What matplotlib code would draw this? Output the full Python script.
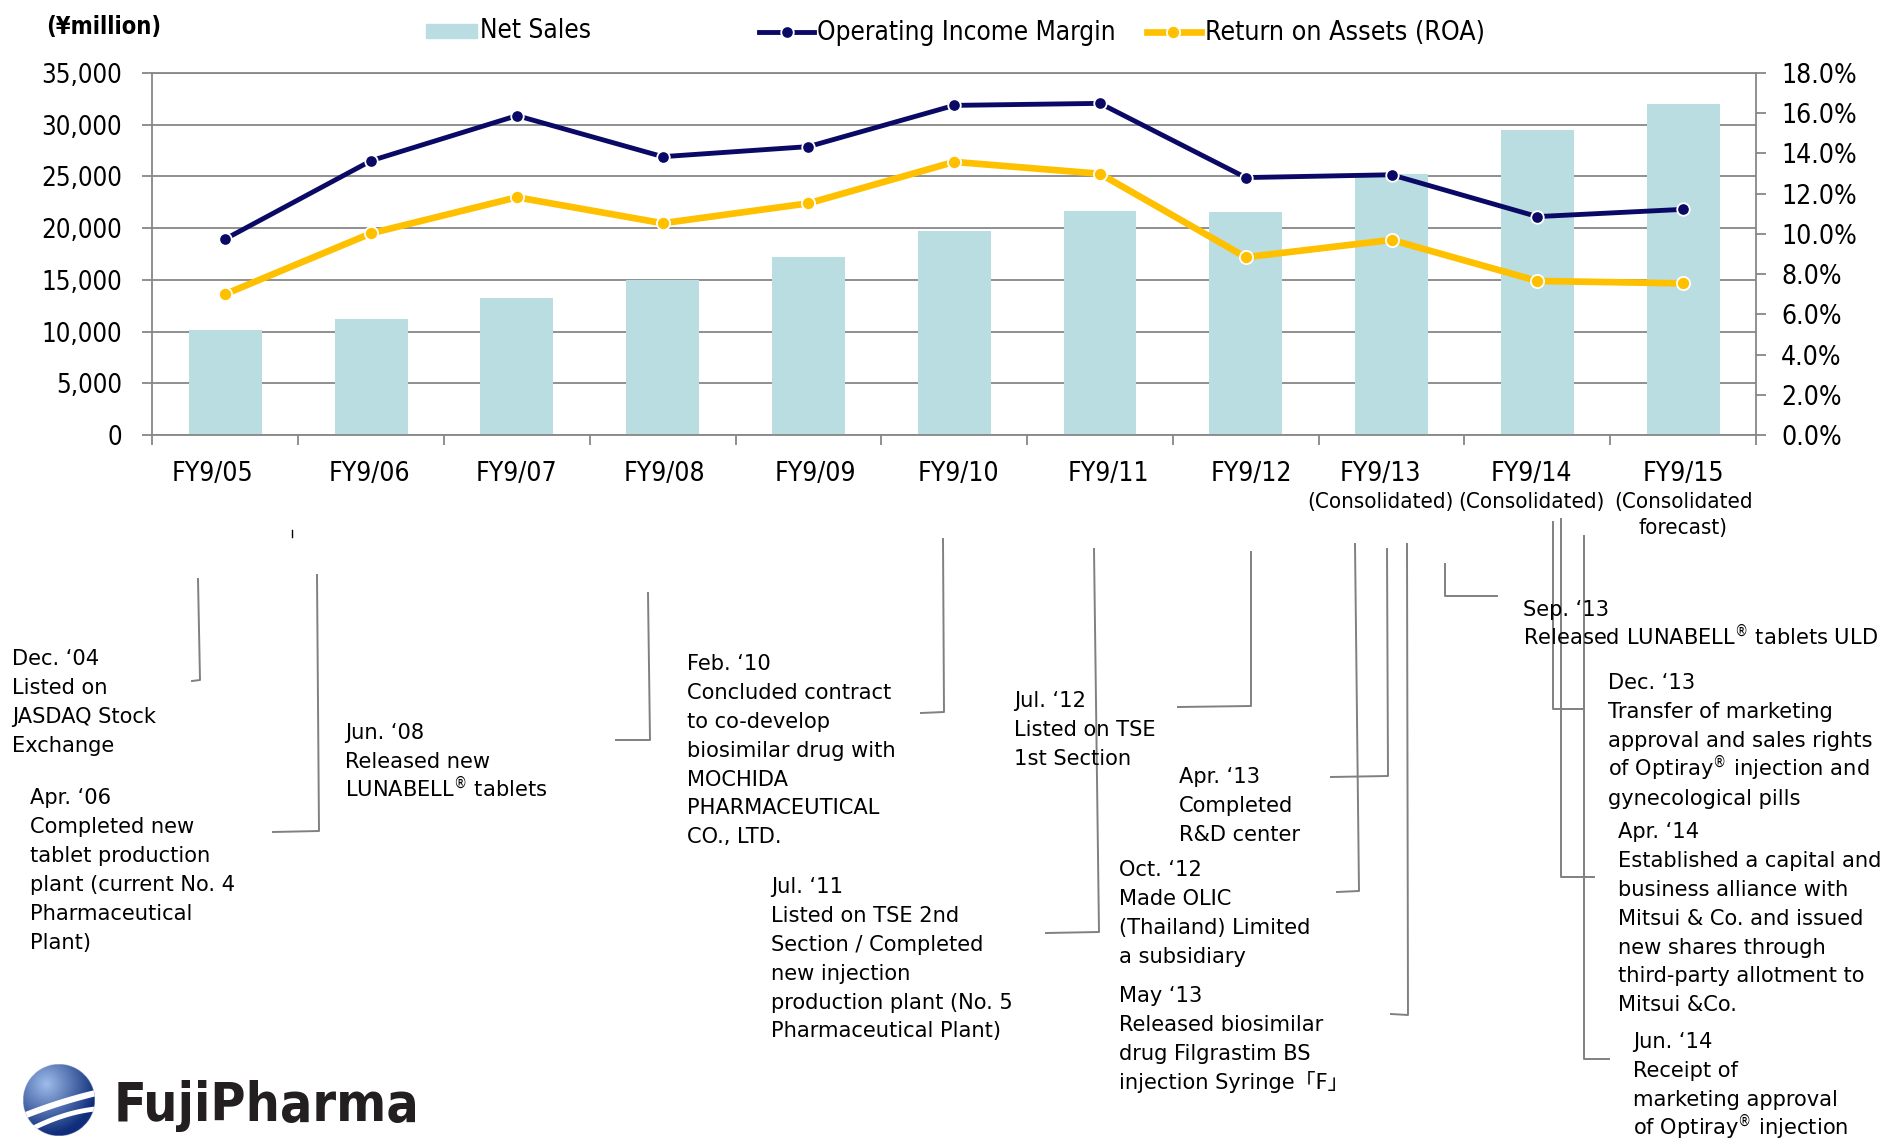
import matplotlib
matplotlib.use("Agg")
import matplotlib.pyplot as plt
import numpy as np
from matplotlib.transforms import Affine2D, blended_transform_factory, offset_copy
from matplotlib.lines import Line2D
from matplotlib.patches import Rectangle, Circle

# ---------------- data ----------------
categories = ["FY9/05", "FY9/06", "FY9/07", "FY9/08", "FY9/09", "FY9/10",
              "FY9/11", "FY9/12", "FY9/13", "FY9/14", "FY9/15"]
sub_labels = [[], [], [], [], [], [], [], [],
              ["(Consolidated)"], ["(Consolidated)"], ["(Consolidated", "forecast)"]]
net_sales = [10150, 11200, 13250, 15000, 17200, 19700, 21650, 21550, 25200, 29500, 32000]
op_margin = [9.75, 13.64, 15.88, 13.84, 14.34, 16.39, 16.49, 12.80, 12.94, 10.86, 11.22]
roa = [7.01, 10.03, 11.82, 10.53, 11.52, 13.58, 12.99, 8.84, 9.70, 7.66, 7.54]
left_ticks = [0, 5000, 10000, 15000, 20000, 25000, 30000, 35000]
right_ticks = [0, 2, 4, 6, 8, 10, 12, 14, 16, 18]
series_names = ["Net Sales", "Operating Income Margin", "Return on Assets (ROA)"]
unit_label = "(¥million)"

events = [
    ["Dec. ‘04", "Listed on", "JASDAQ Stock", "Exchange"],
    ["Apr. ‘06", "Completed new", "tablet production", "plant (current No. 4",
     "Pharmaceutical", "Plant)"],
    ["Jun. ‘08", "Released new", r"LUNABELL$^{\circledR}$ tablets"],
    ["Feb. ‘10", "Concluded contract", "to co-develop", "biosimilar drug with",
     "MOCHIDA", "PHARMACEUTICAL", "CO., LTD."],
    ["Jul. ‘11", "Listed on TSE 2nd", "Section / Completed", "new injection",
     "production plant (No. 5", "Pharmaceutical Plant)"],
    ["Jul. ‘12", "Listed on TSE", "1st Section"],
    ["Apr. ‘13", "Completed", "R&D center"],
    ["Oct. ‘12", "Made OLIC", "(Thailand) Limited", "a subsidiary"],
    ["May ‘13", "Released biosimilar", "drug Filgrastim BS", "injection Syringe「F」"],
    ["Sep. ‘13", r"Released LUNABELL$^{\circledR}$ tablets ULD"],
    ["Dec. ‘13", "Transfer of marketing", "approval and sales rights",
     r"of Optiray$^{\circledR}$ injection and", "gynecological pills"],
    ["Apr. ‘14", "Established a capital and", "business alliance with",
     "Mitsui & Co. and issued", "new shares through", "third-party allotment to",
     "Mitsui &Co."],
    ["Jun. ‘14", "Receipt of", "marketing approval", r"of Optiray$^{\circledR}$ injection"],
]
logo_text = "FujiPharma"

# ---------------- layout (pixels, top-left origin) ----------------
W, H, DPI = 1883, 1140, 100
AX_L, AX_R, AX_T, AX_B = 152.5, 1756, 73, 435
event_pos = [(12, 665), (30, 804), (345, 739), (687, 670), (771, 893), (1014, 707),
             (1179, 783), (1119, 876), (1119, 1002), (1523, 616), (1608, 689),
             (1618, 838), (1633, 1048)]
LINE_STEP = 28.9
connectors = [
    [(198, 579), (200, 680), (192, 681)],
    [(317, 575), (319, 831), (273, 832)],
    [(648, 593), (650, 740), (616, 740)],
    [(943, 539), (944, 712), (921, 713)],
    [(1094, 549), (1099, 932), (1046, 933)],
    [(1251, 552), (1251, 706), (1178, 707)],
    [(1387, 549), (1388, 776), (1331, 777)],
    [(1355, 544), (1359, 891), (1337, 892)],
    [(1407, 544), (1408, 1015), (1391, 1014)],
    [(1445, 564), (1445, 596), (1497, 596)],
    [(1553, 522), (1553, 709), (1584, 709)],
    [(1561, 519), (1561, 877), (1594, 877)],
    [(1584, 536), (1584, 1059), (1609, 1059)],
]
label_nudge = [-13, -2, 0, 2, 7, 4, 8, 6, -11, -6, 0]

BAR = "#B9DDE1"
NAVY = "#0A0A66"
GOLD = "#FFC000"
GRID = "#878787"
CONN = "#808080"

plt.rcParams["font.family"] = ["DejaVu Sans", "Noto Sans CJK JP"]
plt.rcParams["font.stretch"] = "condensed"

fig = plt.figure(figsize=(W / DPI, H / DPI), dpi=DPI)
pix = Affine2D().scale(1.0 / W, -1.0 / H).translate(0, 1) + fig.transFigure

ax = fig.add_axes([AX_L / W, 1 - AX_B / H, (AX_R - AX_L) / W, (AX_B - AX_T) / H])
x = np.arange(len(categories))
ax.bar(x, net_sales, width=0.5, color=BAR, zorder=2)
ax.set_xlim(-0.5, len(categories) - 0.5)
ax.set_ylim(0, 35000)
ax.set_yticks(left_ticks)
ax.set_yticklabels([f"{v:,}" for v in left_ticks])
ax.set_axisbelow(True)
ax.yaxis.grid(True, color=GRID, lw=1.3)
ax.set_xticks(np.arange(-0.5, len(categories)))
ax.set_xticklabels([])
ax.tick_params(axis="x", length=7, width=1.3, color=GRID, direction="out")
ax.tick_params(axis="y", length=7, width=1.3, color=GRID, pad=15, labelsize=18.5)
for s in ["left", "bottom", "top"]:
    ax.spines[s].set_color(GRID)
    ax.spines[s].set_linewidth(1.3)
ax.spines["right"].set_visible(False)

ax2 = ax.twinx()
ax2.set_ylim(0, 18)
ax2.set_yticks(right_ticks)
ax2.set_yticklabels([f"{v:.1f}%" for v in right_ticks])
ax2.plot(x, roa, color=GOLD, lw=4.8, marker="o", ms=9.5, mfc=GOLD, mec="white",
         mew=1.3, zorder=3, solid_capstyle="round")
ax2.plot(x, op_margin, color=NAVY, lw=3.5, marker="o", ms=9, mfc=NAVY, mec="white",
         mew=1.3, zorder=4)
for s in ["left", "top", "bottom"]:
    ax2.spines[s].set_visible(False)
ax2.spines["right"].set_color(GRID)
ax2.spines["right"].set_linewidth(1.3)
ax2.tick_params(axis="y", length=7, width=1.3, color=GRID, pad=11, labelsize=19)

# category labels
lab_tr = blended_transform_factory(ax.transData, pix)
for i, c in enumerate(categories):
    tr = offset_copy(lab_tr, fig=fig, x=label_nudge[i], y=0, units="dots")
    ax.text(i, 474, c, transform=tr, ha="center", va="center", fontsize=19)
    for k, ln in enumerate(sub_labels[i]):
        ax.text(i, 502 + 26 * k, ln, transform=tr, ha="center", va="center",
                fontsize=16)

# legend (manual)
fig.add_artist(Rectangle((426, 24), 51, 14, transform=pix, color=BAR))
fig.text(480, 31, series_names[0], transform=pix, va="center", ha="left", fontsize=18.8)
fig.add_artist(Line2D([759, 814], [32, 32], transform=pix, color=NAVY, lw=3.5))
fig.add_artist(Line2D([787], [32], transform=pix, marker="o", ms=9, mfc=NAVY,
                      mec="white", mew=1.3, lw=0))
fig.text(817, 33, series_names[1], transform=pix, va="center", ha="left", fontsize=18.8)
fig.add_artist(Line2D([1147, 1201], [32, 32], transform=pix, color=GOLD, lw=4.8))
fig.add_artist(Line2D([1173], [32], transform=pix, marker="o", ms=9.5, mfc=GOLD,
                      mec="white", mew=1.3, lw=0))
fig.text(1205, 33, series_names[2], transform=pix, va="center", ha="left", fontsize=19.2)
fig.text(46, 27, unit_label, transform=pix, va="center", ha="left", fontsize=17,
         fontweight="bold")

# event annotations
for (ex, ey), lines in zip(event_pos, events):
    for k, ln in enumerate(lines):
        fig.text(ex, ey + k * LINE_STEP, ln, transform=pix, ha="left", va="baseline",
                 fontsize=15.1, fontstretch="normal")
for pts in connectors:
    xs, ys = zip(*pts)
    fig.add_artist(Line2D(xs, ys, transform=pix, color=CONN, lw=1.4))
fig.add_artist(Line2D([292, 292], [530, 537], transform=pix, color="black", lw=1))

# logo
lax = fig.add_axes([23 / W, 1 - 1136 / H, 72 / W, 72 / H])
lax.set_xlim(-1, 1)
lax.set_ylim(-1, 1)
lax.set_aspect("equal")
lax.axis("off")
n = 240
gx, gy = np.meshgrid(np.linspace(-1, 1, n), np.linspace(1, -1, n))
d = np.hypot(gx + 0.35, gy - 0.45)
t = np.clip(d / 1.4, 0, 1)[..., None]
c0 = np.array([0.62, 0.74, 0.92])
c1 = np.array([0.06, 0.18, 0.48])
img = c0 * (1 - t) + c1 * t
alpha = (np.hypot(gx, gy) <= 1).astype(float)
lax.imshow(np.dstack([img, alpha]), extent=(-1, 1, -1, 1), interpolation="bilinear")
clip = Circle((0, 0), 1, transform=lax.transData)
for (p0, p1, p2), w in [(((-1.0, -0.45), (0.0, -0.05), (1.05, 0.2)), 4.5),
                        (((-0.85, -0.85), (0.1, -0.35), (1.0, -0.25)), 3.5)]:
    tt = np.linspace(0, 1, 50)
    bx = (1 - tt) ** 2 * p0[0] + 2 * (1 - tt) * tt * p1[0] + tt ** 2 * p2[0]
    by = (1 - tt) ** 2 * p0[1] + 2 * (1 - tt) * tt * p1[1] + tt ** 2 * p2[1]
    ln, = lax.plot(bx, by, color="white", lw=w, solid_capstyle="butt")
    ln.set_clip_path(clip)
fig.text(114, 1121, logo_text, transform=pix, ha="left", va="baseline", fontsize=38.5,
         fontweight="heavy", color="#231F20")

fig.savefig("out.png", dpi=DPI)
